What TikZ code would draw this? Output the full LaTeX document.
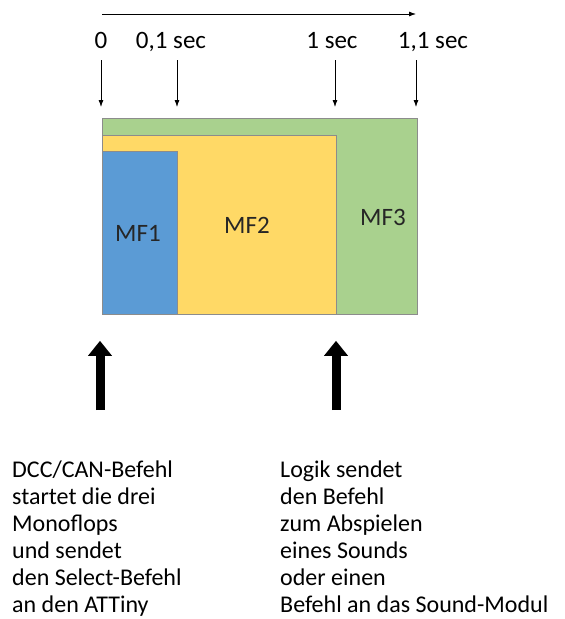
\documentclass[tikz,border=0pt]{standalone}
\usepackage{fontspec}
\setmainfont{Carlito}
\usetikzlibrary{arrows.meta,positioning}

\definecolor{mfblue}{HTML}{5B9BD5}
\definecolor{mfyellow}{HTML}{FFD966}
\definecolor{mfgreen}{HTML}{A9D18E}

\begin{document}
\begin{tikzpicture}[
  x=1pt, y=-1pt,
  mfbox/.style={draw=black!45, line width=0.8pt, anchor=north west, inner sep=0pt},
  mflabel/.style={text=black!85, font=\fontsize{25}{28}\selectfont},
  tlabel/.style={anchor=base, inner sep=0pt, font=\fontsize{25}{28}\selectfont},
  cmd/.style={anchor=north west, align=left, inner sep=0pt, font=\fontsize{24}{27}\selectfont},
  tick/.style={-{Latex[length=7pt,width=5pt]}, line width=0.8pt},
  push/.style={-{Triangle[length=15pt,width=23pt]}, line width=9pt}
]
\useasboundingbox (0,0) rectangle (565,619);

% monoflop boxes
\node[mfbox, fill=mfgreen, minimum width=315pt, minimum height=196pt] (mf3) at (102,118) {};
\node[mfbox, fill=mfyellow, minimum width=234pt, minimum height=179pt] (mf2) at (102,135) {};
\node[mfbox, fill=mfblue, minimum width=75pt, minimum height=163pt] (mf1) at (102,151) {};
\node[mflabel] (l1) at (138,233) {MF1};
\node[mflabel] (l2) at (247,225) {MF2};
\node[mflabel] (l3) at (383,217) {MF3};

% time axis
\coordinate (ta) at (102,14);
\coordinate (tb) at (416,14);
\draw[tick] (ta) -- (tb);
\node[tlabel] (t0) at (101,48) {0};
\node[tlabel] (t1) at (171,48) {0,1 sec};
\node[tlabel] (t2) at (332,48) {1 sec};
\node[tlabel] (t3) at (433,48) {1,1 sec};

% markers down to the boxes
\foreach \n/\x in {d0/101,d1/177,d2/335,d3/416}
  \coordinate (\n) at (\x,60);
\foreach \n in {d0,d1,d2,d3}
  \draw[tick, shorten >=11pt] (\n) -- (\n |- mf3.north);

% commands from below
\coordinate (p1) at (100,410);
\coordinate (p2) at (336,410);
\foreach \p in {p1,p2}
  \draw[push, shorten >=26pt] (\p) -- (\p |- mf1.south);

% texts
\node[cmd] (c1) at (12,461) {DCC/CAN-Befehl\\startet die drei\\Monoflops\\und sendet\\den Select-Befehl\\an den ATTiny};
\node[cmd] (c2) at (280,461) {Logik sendet\\den Befehl\\zum Abspielen\\eines Sounds\\oder einen\\Befehl an das Sound-Modul};

\end{tikzpicture}
\end{document}
